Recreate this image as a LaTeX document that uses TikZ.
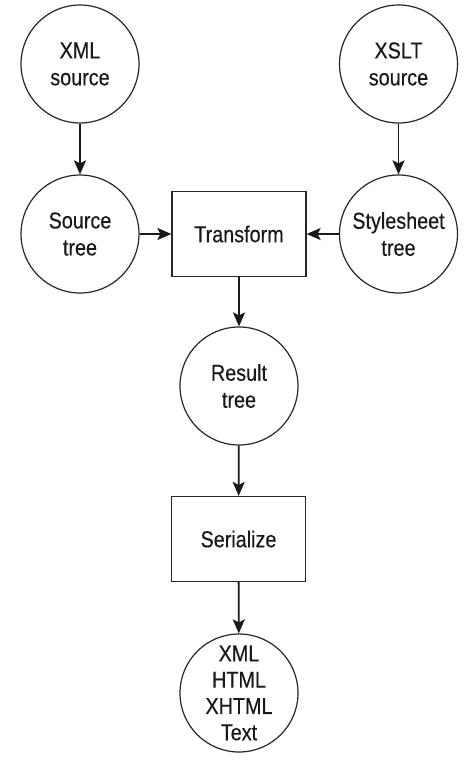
\documentclass[tikz,border=0pt]{standalone}
\usepackage{fontspec}
\setmainfont{Liberation Sans}[FakeStretch=0.86,FakeBold=0.4]
\usetikzlibrary{arrows.meta}
\begin{document}
\begin{tikzpicture}[x=1pt,y=-1pt,
  txt/.style={align=center,font=\fontsize{23}{27}\selectfont,text=black!90},
  circ/.style={txt,draw=black!85,circle,minimum size=118pt,inner sep=0pt,line width=1.2pt},
  boxn/.style={txt,draw=black!85,rectangle,minimum width=134pt,minimum height=85pt,inner sep=0pt,line width=1.2pt},
  arr/.style={draw=black!90,line width=1.8pt,-{Stealth[length=14pt,width=12pt,inset=3pt]}}]
\useasboundingbox (0,0) rectangle (475,762);
\node[circ] (xmlsrc) at (80,64) {XML\\source};
\node[circ] (srctree) at (80,234) {Source\\tree};
\node[circ] (xsltsrc) at (398.5,64) {XSLT\\source};
\node[circ] (styletree) at (398.5,234) {Stylesheet\\tree};
\node[boxn] (transform) at (239,234) {Transform};
\node[circ] (result) at (239,386) {Result\\tree};
\node[boxn] (serialize) at (238.5,539) {Serialize};
\node[circ,font=\fontsize{23}{26.3}\selectfont] (output) at (239,693) {XML\\HTML\\XHTML\\Text};
\draw[arr] (xmlsrc) -- (srctree);
\draw[arr] (xsltsrc) -- (styletree);
\draw[arr] (srctree) -- (transform);
\draw[arr] (styletree) -- (transform);
\draw[arr] (transform) -- (result);
\draw[arr] (result) -- (serialize);
\draw[arr] (serialize) -- (output);
\end{tikzpicture}
\end{document}
